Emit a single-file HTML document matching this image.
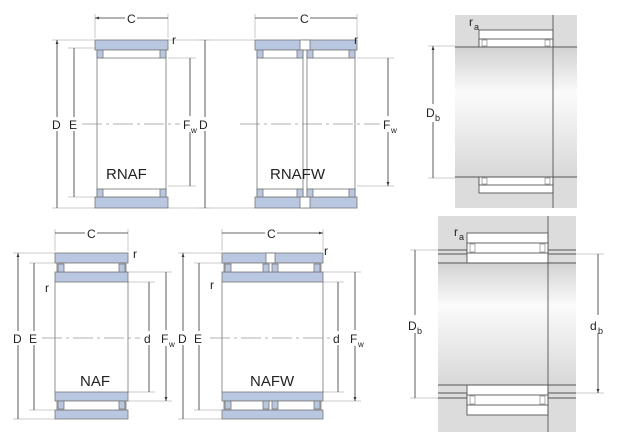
<!DOCTYPE html>
<html><head><meta charset="utf-8"><style>
html,body{margin:0;padding:0;background:#fff;width:640px;height:440px;overflow:hidden}
text{font-family:"Liberation Sans",sans-serif;fill:#222}
</style></head><body>
<svg width="640" height="440" viewBox="0 0 640 440" xmlns="http://www.w3.org/2000/svg">
<defs>
<marker id="a" viewBox="0 0 10 10" refX="10" refY="5" markerWidth="5" markerHeight="6" orient="auto-start-reverse"><path d="M0,1.5L10,5L0,8.5z" fill="#333"/></marker>
<linearGradient id="sh" x1="0" y1="0" x2="0" y2="1"><stop offset="0" stop-color="#d2d2d2"/><stop offset="0.35" stop-color="#fbfbfb"/><stop offset="1" stop-color="#d8d8d8"/></linearGradient>
</defs>
<g stroke="#bbb" stroke-width="0.8" fill="none">
<!-- extension lines -->
<path d="M95,14V38M168,14V38M255,14V38M357,14V38"/>
<path d="M52,40H95M68,48H97M168,58H196M168,186H196M52,208H95M68,197H97M168,40H210M168,208H210"/>
<path d="M198,40H255M357,58H394M357,186H394M198,208H255M68,48H70"/>
<path d="M55,229V251M128,229V251M222,229V251M323,229V251"/>
<path d="M13,253H55M29,263H57M128,272H172M128,282H155M128,392H155M128,401H172M13,419H55M29,410H57"/>
<path d="M178,253H222M194,263H224M323,272H361M323,282H344M323,392H344M323,401H361M178,419H222M194,410H224"/>
<path d="M428,46H455M428,178H455M410,250H438M410,398H438M576,254H604M576,393H604"/>
</g>
<g stroke="#333" stroke-width="0.8" fill="none" marker-start="url(#a)" marker-end="url(#a)">
<path d="M95,18H168M255,18H357M55,233H128M222,233H323"/>
<path d="M57,40V208M74,48V197M190,58V186M205,40V208M388,58V186"/>
<path d="M18,253V419M34,263V410M149,282V392M166,272V401"/>
<path d="M183,253V419M199,263V410M338,282V392M355,272V401"/>
<path d="M433,46V178M415,250V398M598,254V393"/>
</g>
<g stroke="#999" stroke-width="0.8" stroke-dasharray="20,4,3,4">
<path d="M82,124H180M240,124H380M42,338H140M210,338H335"/>
</g>
<!-- white label backgrounds over dims -->
<g fill="#fff"><rect x="125" y="12" width="12" height="12"/><rect x="298" y="12" width="12" height="12"/><rect x="85" y="227" width="12" height="12"/><rect x="265" y="227" width="12" height="12"/>
<rect x="51" y="117" width="12" height="14"/><rect x="68" y="117" width="12" height="14"/><rect x="182" y="116" width="22" height="16"/><rect x="198" y="117" width="14" height="14"/><rect x="382" y="116" width="20" height="16"/>
<rect x="12" y="331" width="12" height="14"/><rect x="28" y="331" width="12" height="14"/><rect x="143" y="331" width="12" height="14"/><rect x="160" y="330" width="20" height="16"/>
<rect x="177" y="331" width="12" height="14"/><rect x="193" y="331" width="12" height="14"/><rect x="332" y="331" width="12" height="14"/><rect x="349" y="330" width="20" height="16"/>
<rect x="424" y="104" width="20" height="18"/><rect x="406" y="315" width="20" height="18"/><rect x="588" y="315" width="20" height="18"/></g>

<g stroke="#777" stroke-width="0.8">
<!-- RNAF -->
<rect x="95" y="40" width="73" height="10" fill="#bac7e1"/>
<rect x="95" y="197" width="73" height="11" fill="#bac7e1"/>
<path d="M97,50V197M166,50V197" fill="none"/>
<rect x="97" y="50" width="69" height="8" fill="#fff"/>
<rect x="97" y="189" width="69" height="8" fill="#fff"/>
<g fill="#bac7e1"><rect x="97" y="50" width="6" height="8"/><rect x="160" y="50" width="6" height="8"/><rect x="97" y="189" width="6" height="8"/><rect x="160" y="189" width="6" height="8"/></g>
<!-- RNAFW -->
<rect x="255" y="40" width="102" height="10" fill="#bac7e1"/>
<rect x="255" y="197" width="102" height="11" fill="#bac7e1"/>
<rect x="300" y="40" width="10" height="10" fill="#fff"/>
<rect x="300" y="197" width="10" height="11" fill="#fff"/>
<path d="M257,50V197M355,50V197M303,50V197M307,50V197" fill="none"/>
<rect x="257" y="50" width="46" height="8" fill="#fff"/><rect x="307" y="50" width="48" height="8" fill="#fff"/>
<rect x="257" y="189" width="46" height="8" fill="#fff"/><rect x="307" y="189" width="48" height="8" fill="#fff"/>
<g fill="#bac7e1"><rect x="257" y="50" width="6" height="8"/><rect x="297" y="50" width="6" height="8"/><rect x="307" y="50" width="6" height="8"/><rect x="349" y="50" width="6" height="8"/>
<rect x="257" y="189" width="6" height="8"/><rect x="297" y="189" width="6" height="8"/><rect x="307" y="189" width="6" height="8"/><rect x="349" y="189" width="6" height="8"/></g>
<!-- NAF -->
<rect x="55" y="253" width="73" height="10" fill="#bac7e1"/>
<rect x="55" y="272" width="73" height="10" fill="#bac7e1"/>
<rect x="55" y="392" width="73" height="9" fill="#bac7e1"/>
<rect x="55" y="410" width="73" height="9" fill="#bac7e1"/>
<path d="M55,282V392M128,282V392" fill="none"/>
<rect x="57" y="263" width="69" height="9" fill="#fff"/><rect x="57" y="401" width="69" height="9" fill="#fff"/>
<g fill="#bac7e1"><rect x="58" y="264" width="6" height="8"/><rect x="119" y="264" width="6" height="8"/><rect x="58" y="401" width="6" height="8"/><rect x="119" y="401" width="6" height="8"/></g>
<!-- NAFW -->
<rect x="222" y="253" width="101" height="10" fill="#bac7e1"/>
<rect x="222" y="272" width="101" height="10" fill="#bac7e1"/>
<rect x="222" y="392" width="101" height="9" fill="#bac7e1"/>
<rect x="222" y="410" width="101" height="9" fill="#bac7e1"/>
<rect x="266" y="253" width="9" height="10" fill="#fff"/>
<path d="M222,282V392M323,282V392" fill="none"/>
<rect x="224" y="263" width="97" height="9" fill="#fff"/><rect x="224" y="401" width="97" height="9" fill="#fff"/>
<g fill="#bac7e1"><rect x="225" y="264" width="6" height="8"/><rect x="263" y="264" width="6" height="8"/><rect x="272" y="264" width="6" height="8"/><rect x="314" y="264" width="6" height="8"/>
<rect x="225" y="401" width="6" height="8"/><rect x="263" y="401" width="6" height="8"/><rect x="272" y="401" width="6" height="8"/><rect x="314" y="401" width="6" height="8"/></g>
</g>

<!-- Panel 1 -->
<rect x="455" y="15" width="122" height="193" fill="#dcdcdc"/>
<rect x="455" y="48" width="122" height="129" fill="url(#sh)"/>
<g stroke="#555" stroke-width="0.9" fill="#fff">
<rect x="479" y="30" width="74" height="17"/>
<rect x="479" y="39" width="74" height="8"/>
<rect x="479" y="177" width="74" height="16"/>
<rect x="479" y="177" width="74" height="8"/>
<path d="M455,47H577M455,177H577M553,15V208" fill="none"/>
</g>
<g stroke="#777" stroke-width="0.6" fill="#fff"><rect x="482" y="40" width="5" height="6"/><rect x="545" y="40" width="5" height="6"/><rect x="482" y="178" width="5" height="6"/><rect x="545" y="178" width="5" height="6"/></g>
<!-- Panel 2 -->
<rect x="438" y="216" width="138" height="216" fill="#dcdcdc"/>
<rect x="438" y="263" width="138" height="122" fill="url(#sh)"/>
<g stroke="#555" stroke-width="0.9" fill="#fff">
<rect x="467" y="233" width="81" height="30"/>
<rect x="467" y="243" width="81" height="10"/>
<rect x="467" y="385" width="81" height="30"/>
<rect x="467" y="395" width="81" height="10"/>
<path d="M438,250H467M438,254H467M548,250H576M548,254H576M438,263H576M438,393H467M438,398H467M548,393H576M548,398H576M438,385H576M548,216V432" fill="none"/>
</g>
<g stroke="#777" stroke-width="0.6" fill="#fff"><rect x="470" y="244" width="5" height="8"/><rect x="540" y="244" width="5" height="8"/><rect x="470" y="396" width="5" height="8"/><rect x="540" y="396" width="5" height="8"/></g>

<!-- labels -->
<g font-size="12">
<text x="127" y="23">C</text><text x="300" y="23">C</text><text x="87" y="238">C</text><text x="267" y="238">C</text>
<text x="172" y="44">r</text><text x="354" y="44">r</text><text x="133" y="258">r</text><text x="324" y="255">r</text><text x="45" y="292">r</text><text x="210" y="289">r</text>
<text x="52" y="129">D</text><text x="69" y="129">E</text><text x="183" y="129">F</text><text x="191" y="133" font-size="8">w</text><text x="199" y="129">D</text>
<text x="383" y="129">F</text><text x="391" y="133" font-size="8">w</text>
<text x="13" y="343">D</text><text x="29" y="343">E</text><text x="144" y="343">d</text><text x="161" y="343">F</text><text x="169" y="347" font-size="8">w</text>
<text x="178" y="343">D</text><text x="194" y="343">E</text><text x="333" y="343">d</text><text x="350" y="343">F</text><text x="358" y="347" font-size="8">w</text>
<text x="426" y="117">D</text><text x="435" y="121" font-size="9">b</text>
<text x="408" y="330">D</text><text x="417" y="334" font-size="9">b</text>
<text x="590" y="330">d</text><text x="598" y="334" font-size="9">b</text>
<text x="469" y="26">r</text><text x="474" y="30" font-size="9">a</text>
<text x="454" y="236">r</text><text x="459" y="240" font-size="9">a</text>
</g>
<g font-size="15"><text x="106" y="179">RNAF</text><text x="270" y="179">RNAFW</text><text x="80" y="386">NAF</text><text x="250" y="386">NAFW</text></g>
</svg>
</body></html>
